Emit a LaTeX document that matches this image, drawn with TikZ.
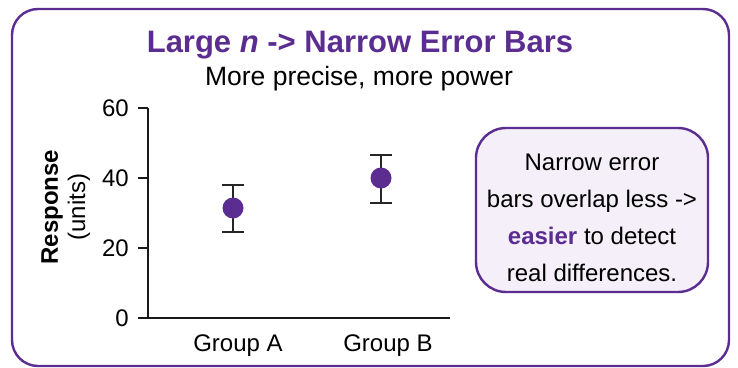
\documentclass[tikz,border=0pt]{standalone}
\usepackage{fontspec}
\setmainfont{Liberation Sans}
\definecolor{plum}{HTML}{5B2D91}
\definecolor{lilac}{HTML}{F4EFF8}

\begin{document}
\begin{tikzpicture}[x=1pt,y=-1pt,
  frame/.style={draw=plum,line width=2.4pt,rounded corners=26pt},
  axis/.style={line width=2.2pt,draw=black!90},
  errbar/.style={line width=2.2pt,draw=black!85},
  dot/.style={circle,fill=plum,inner sep=0pt,minimum size=21pt},
  lbl/.style={font=\fontsize{24}{27}\selectfont,inner sep=0pt},
  notebox/.style={draw=plum,line width=2.4pt,fill=lilac,rounded corners=30pt,
    minimum width=232pt,minimum height=164pt},
  notetext/.style={align=center,inner sep=0pt,font=\fontsize{24}{37}\selectfont}]

\useasboundingbox (0,0) rectangle (738,367);
\filldraw[fill=white,frame] (12,9) rectangle (729,366);

% heading
\node[font=\fontsize{31}{34}\selectfont\bfseries,text=plum] (title) at (360,45)
  {Large \textit{n} -> Narrow Error Bars};
\node[font=\fontsize{26.5}{30}\selectfont] (subtitle) at (359,79) {More precise, more power};

% axes
\draw[axis] (148,108) -- (148,318) -- (450,318);
\foreach \v in {0,20,40,60} {
  \draw[axis] (138,318-3.5*\v) -- (148,318-3.5*\v);
  \node[lbl,anchor=east] (tick\v) at (129,318-3.5*\v) {\v};
}
\node[lbl,font=\fontsize{24}{27}\selectfont\bfseries,rotate=90] (ylab) at (52,207) {Response};
\node[lbl,rotate=90] (yunit) at (79,207) {(units)};

% group A
\coordinate (hiA) at (233,185);
\coordinate (loA) at (233,232);
\draw[errbar] (hiA) -- (loA);
\draw[errbar] ([xshift=-11pt]hiA) -- ([xshift=11pt]hiA);
\draw[errbar] ([xshift=-11pt]loA) -- ([xshift=11pt]loA);
\node[dot] (ptA) at (233,208) {};
\node[lbl] (grpA) at (238,346) {Group A};

% group B
\coordinate (hiB) at (381,155);
\coordinate (loB) at (381,203);
\draw[errbar] (hiB) -- (loB);
\draw[errbar] ([xshift=-11pt]hiB) -- ([xshift=11pt]hiB);
\draw[errbar] ([xshift=-11pt]loB) -- ([xshift=11pt]loB);
\node[dot] (ptB) at (381,178) {};
\node[lbl] (grpB) at (388,346) {Group B};

% side note
\node[notebox] (note) at (592,210) {};
\node[notetext] (notebody) at ([yshift=-8pt]note.center)
  {Narrow error\\ bars overlap less ->\\ \textcolor{plum}{\bfseries easier} to detect\\ real differences.};
\end{tikzpicture}
\end{document}
